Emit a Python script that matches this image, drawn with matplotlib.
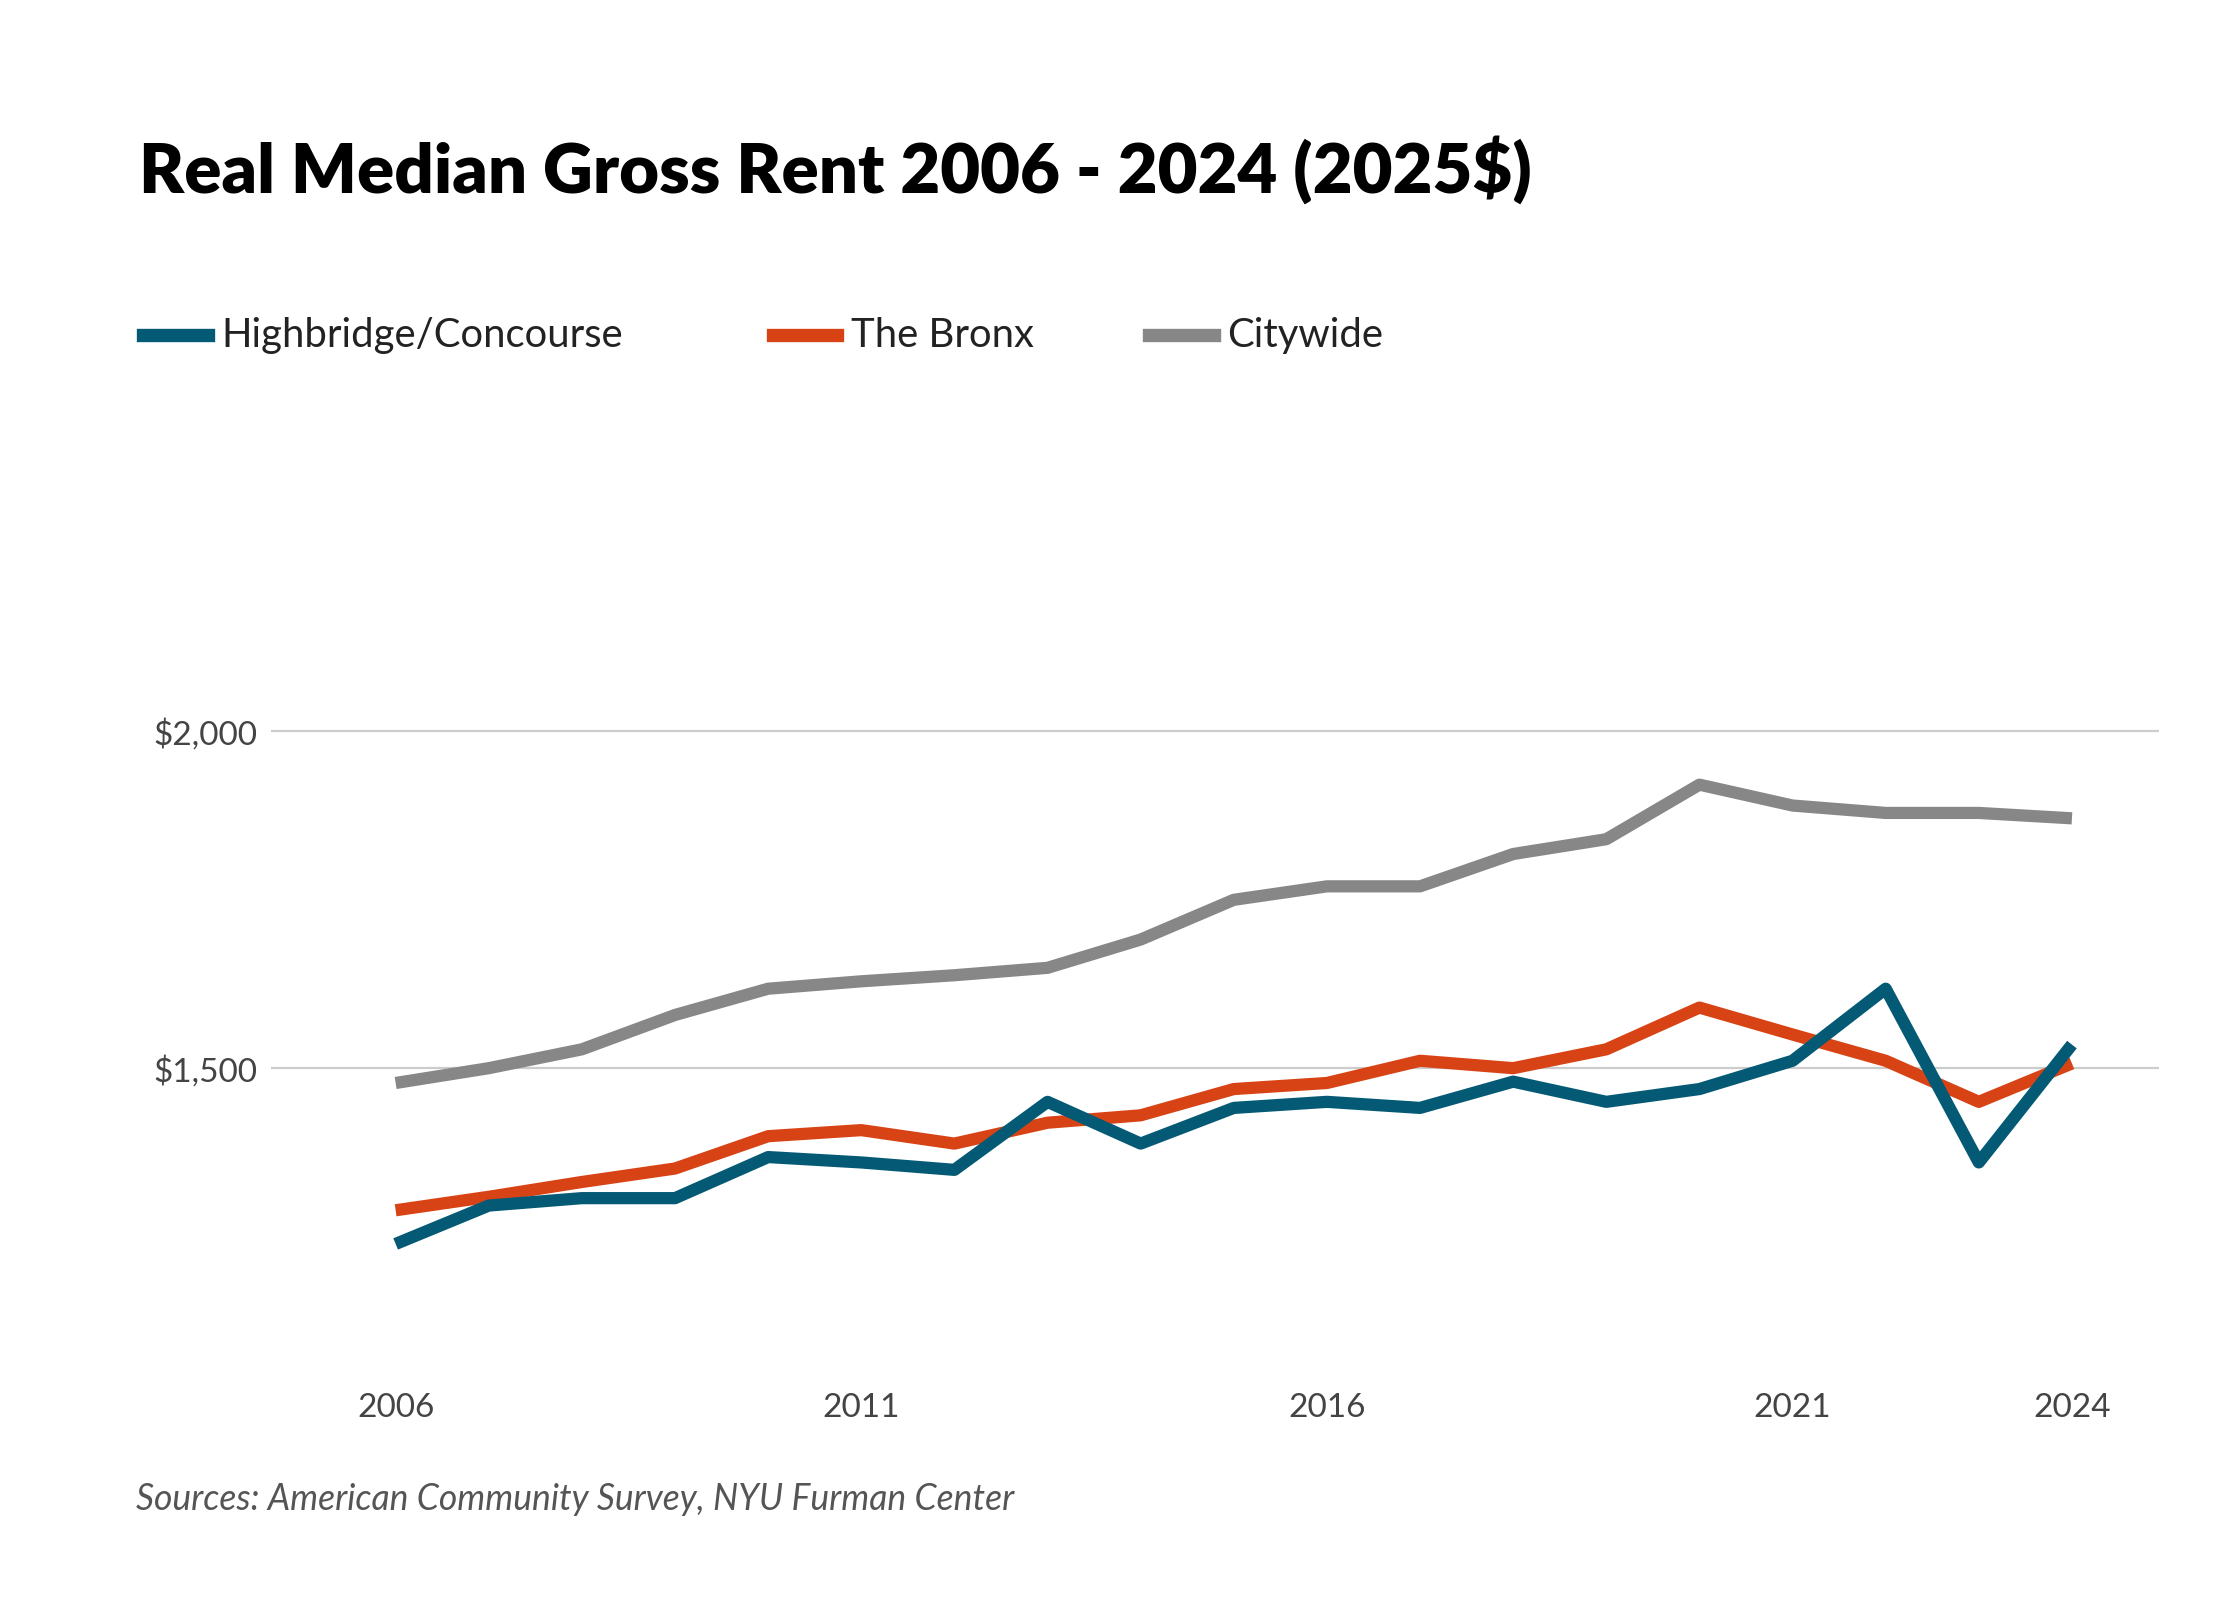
import matplotlib
matplotlib.use("Agg")
import matplotlib.pyplot as plt

years = list(range(2006, 2025))
highbridge = [1239,1296,1307,1307,1368,1360,1349,1450,1388,1441,1450,1441,1480,1450,1469,1511,1618,1360,1535]
bronx = [1289,1309,1331,1351,1399,1408,1388,1419,1430,1469,1478,1511,1500,1528,1590,1550,1511,1450,1507]
citywide = [1478,1500,1528,1579,1618,1629,1638,1649,1691,1750,1770,1770,1818,1840,1921,1890,1879,1879,1871]
series = [("Highbridge/Concourse", highbridge, "#045a74"),
          ("The Bronx", bronx, "#d84315"),
          ("Citywide", citywide, "#878787")]
xticks = [2006, 2011, 2016, 2021, 2024]
yticks = [1500, 2000]
ytick_labels = ["$1,500", "$2,000"]

plt.rcParams['font.family'] = ['Lato', 'DejaVu Sans']
W, H = 1530, 1083
fig = plt.figure(figsize=(14, 10), dpi=160)
ax = fig.add_axes([185/W, 1-940/H, (1475-185)/W, 640/H])
for name, vals, c in series[::-1]:
    ax.plot(years, vals, color=c, lw=5.5, solid_capstyle='butt', label=name)
ax.set_xlim(2004.66, 2024.94)
ax.set_ylim(1024, 2428)
ax.set_yticks(yticks)
ax.set_yticklabels(ytick_labels)
ax.set_xticks(xticks)
ax.set_xticklabels([str(x) for x in xticks])
ax.grid(axis='y', color='#cccccc', lw=1)
ax.set_axisbelow(True)
for s in ax.spines.values():
    s.set_visible(False)
ax.tick_params(axis='both', length=0, labelsize=15, colors='#444444')
ax.tick_params(axis='x', pad=2)
ax.tick_params(axis='y', pad=6)

fig.text(95/W, 1-115/H, "Real Median Gross Rent 2006 - 2024 (2025$)", fontsize=31,
         fontweight='heavy', va='center', ha='left', color='black')
lx = [98, 528, 785]
for (name, vals, c), x in zip(series, lx):
    fig.add_artist(plt.Line2D([x/W, (x+44)/W], [1-227/H]*2, color=c, lw=6))
    fig.text((x+53)/W, 1-227/H, name, fontsize=18, va='center', ha='left', color='#222222')
fig.text(93/W, 1-1015/H, "Sources: American Community Survey, NYU Furman Center",
         fontsize=16, style='italic', color='#555555', va='center', ha='left')
fig.savefig("out.png", dpi=160, facecolor='white')
